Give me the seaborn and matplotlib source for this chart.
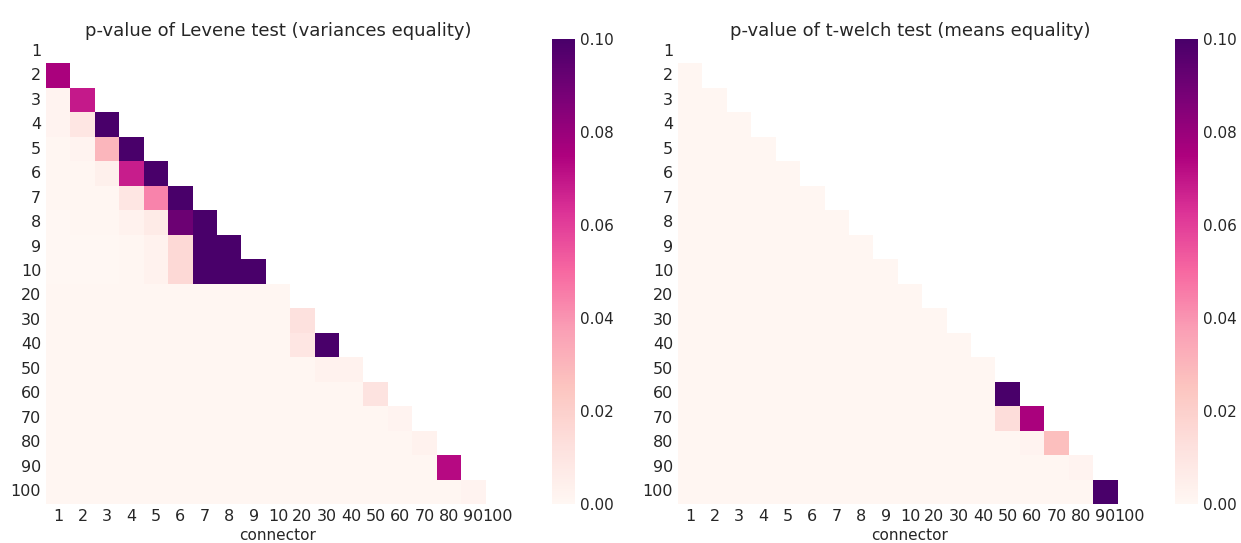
import matplotlib.pyplot as plt
import numpy as np
import pandas as pd
import seaborn as sns

# connector sizes (same on both axes)
connectors = ["1", "2", "3", "4", "5", "6", "7", "8", "9", "10",
              "20", "30", "40", "50", "60", "70", "80", "90", "100"]

# lower triangle, one list per row starting at row "2"
levene_rows = [
    [0.076],
    [0.002, 0.069],
    [0.002, 0.009, 0.12],
    [0.001, 0.002, 0.030, 0.15],
    [0.001, 0.001, 0.004, 0.068, 0.2],
    [0.001, 0.001, 0.001, 0.009, 0.044, 0.3],
    [0.000, 0.001, 0.001, 0.003, 0.007, 0.091, 0.25],
    [0.000, 0.000, 0.000, 0.001, 0.003, 0.016, 0.4, 0.35],
    [0.000, 0.000, 0.000, 0.001, 0.003, 0.016, 0.5, 0.3, 0.2],
    [0.001, 0.001, 0.001, 0.001, 0.001, 0.001, 0.001, 0.001, 0.001, 0.001],
    [0.001, 0.001, 0.001, 0.001, 0.001, 0.001, 0.001, 0.001, 0.001, 0.001,
     0.012],
    [0.001, 0.001, 0.001, 0.001, 0.001, 0.001, 0.001, 0.001, 0.001, 0.001,
     0.009, 0.3],
    [0.001, 0.001, 0.001, 0.001, 0.001, 0.001, 0.001, 0.001, 0.001, 0.001,
     0.001, 0.003, 0.003],
    [0.001, 0.001, 0.001, 0.001, 0.001, 0.001, 0.001, 0.001, 0.001, 0.001,
     0.001, 0.001, 0.001, 0.011],
    [0.001, 0.001, 0.001, 0.001, 0.001, 0.001, 0.001, 0.001, 0.001, 0.001,
     0.001, 0.001, 0.001, 0.001, 0.002],
    [0.001, 0.001, 0.001, 0.001, 0.001, 0.001, 0.001, 0.001, 0.001, 0.001,
     0.001, 0.001, 0.001, 0.001, 0.001, 0.003],
    [0.001, 0.001, 0.001, 0.001, 0.001, 0.001, 0.001, 0.001, 0.001, 0.001,
     0.001, 0.001, 0.001, 0.001, 0.001, 0.001, 0.073],
    [0.001, 0.001, 0.001, 0.001, 0.001, 0.001, 0.001, 0.001, 0.001, 0.001,
     0.001, 0.001, 0.001, 0.001, 0.001, 0.001, 0.001, 0.002],
]

welch_rows = [
    [0.001],
    [0.001, 0.001],
    [0.001, 0.001, 0.001],
    [0.001, 0.001, 0.001, 0.001],
    [0.001, 0.001, 0.001, 0.001, 0.001],
    [0.001, 0.001, 0.001, 0.001, 0.001, 0.001],
    [0.001, 0.001, 0.001, 0.001, 0.001, 0.001, 0.001],
    [0.001, 0.001, 0.001, 0.001, 0.001, 0.001, 0.001, 0.001],
    [0.001, 0.001, 0.001, 0.001, 0.001, 0.001, 0.001, 0.001, 0.001],
    [0.001, 0.001, 0.001, 0.001, 0.001, 0.001, 0.001, 0.001, 0.001, 0.001],
    [0.001, 0.001, 0.001, 0.001, 0.001, 0.001, 0.001, 0.001, 0.001, 0.001,
     0.001],
    [0.001, 0.001, 0.001, 0.001, 0.001, 0.001, 0.001, 0.001, 0.001, 0.001,
     0.001, 0.001],
    [0.001, 0.001, 0.001, 0.001, 0.001, 0.001, 0.001, 0.001, 0.001, 0.001,
     0.001, 0.001, 0.001],
    [0.001, 0.001, 0.001, 0.001, 0.001, 0.001, 0.001, 0.001, 0.001, 0.001,
     0.001, 0.001, 0.001, 0.4],
    [0.001, 0.001, 0.001, 0.001, 0.001, 0.001, 0.001, 0.001, 0.001, 0.001,
     0.001, 0.001, 0.001, 0.014, 0.076],
    [0.001, 0.001, 0.001, 0.001, 0.001, 0.001, 0.001, 0.001, 0.001, 0.001,
     0.001, 0.001, 0.001, 0.001, 0.002, 0.027],
    [0.001, 0.001, 0.001, 0.001, 0.001, 0.001, 0.001, 0.001, 0.001, 0.001,
     0.001, 0.001, 0.001, 0.001, 0.001, 0.001, 0.002],
    [0.001, 0.001, 0.001, 0.001, 0.001, 0.001, 0.001, 0.001, 0.001, 0.001,
     0.001, 0.001, 0.001, 0.001, 0.001, 0.001, 0.001, 0.3],
]

titles = ["p-value of Levene test (variances equality)",
          "p-value of t-welch test (means equality)"]


def to_frame(rows):
    n = len(connectors)
    m = np.full((n, n), np.nan)
    for i, row in enumerate(rows, start=1):
        m[i, :len(row)] = row
    df = pd.DataFrame(m, index=connectors, columns=connectors)
    df.columns.name = "connector"
    return df


sns.set_theme(style="white", rc={"xtick.major.size": 0,
                                 "ytick.major.size": 0})
plt.rcParams["font.family"] = ["DejaVu Sans"]

W, H = 1241, 543
fig = plt.figure(figsize=(W / 100, H / 100), dpi=100)

# pixel boxes: (heatmap left, colorbar left)
panels = [(46, 552), (678, 1175)]

for (x0, cx0), rows, title in zip(panels, [levene_rows, welch_rows], titles):
    ax = fig.add_axes([x0 / W, 39 / H, 464 / W, 465 / H])
    cax = fig.add_axes([cx0 / W, 39 / H, 23 / W, 465 / H])
    df = to_frame(rows)
    mask = np.triu(np.ones(df.shape, dtype=bool))
    sns.heatmap(df, mask=mask, cmap="RdPu", vmin=0, vmax=0.1,
                ax=ax, cbar_ax=cax)
    ax.set_title(title, fontsize=13, pad=2)
    ax.set_xlabel("connector", fontsize=11, labelpad=3)
    ax.set_ylabel("")
    ax.tick_params(axis="x", rotation=0, length=0, labelsize=11.5)
    ax.tick_params(axis="y", rotation=0, length=0, labelsize=11.5)
    cax.tick_params(length=0)

plt.savefig("out.png", dpi=100)
